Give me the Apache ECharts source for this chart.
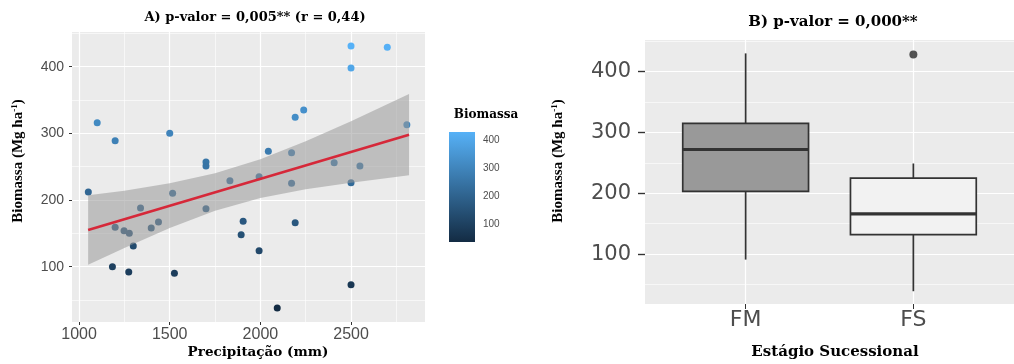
<!DOCTYPE html>
<html>
<head>
<meta charset="utf-8">
<script src="https://cdn.jsdelivr.net/npm/echarts@6/dist/echarts.min.js"></script>
<style>
html,body{margin:0;padding:0;background:#fff;}
#chart{width:1014px;height:364px;}
</style>
</head>
<body>
<div id="chart"></div>
<script>
// ---- Panel A data ----
const precip  = [1051,1100,1199,1500,1700,1700,1832,1516,1339,1700,1199,1248,1277,1398,1438,1299,1184,1274,1526,1905,1894,1993,2093,1993,2044,2172,2172,2192,2192,2239,2500,2500,2700,2808,2407,2549,2500,2500];
const biomass = [212,316,289,300,257,251,229,210,188,187,159,154,150,158,167,131,100,92,90,168,148,124,38,235,273,271,225,166,324,335,431,398,429,313,256,251,226,73];
// regression line end points and confidence band
const fitX = [1050, 2820];
const fitY = [155, 298];
const bandX    = [1050,1250,1500,1750,2000,2250,2500,2820];
const bandLow  = [103, 128, 158, 184, 203, 216, 226, 237];
const bandHigh = [207, 214, 225, 240, 261, 288, 318, 359];
const xTicksA = [1000,1500,2000,2500];
const yTicks  = [100,200,300,400];
const colorTicks = [100,200,300,400];

// ---- Panel B data ----
const categories = ['FM','FS'];
const boxLow  = [91, 39];
const boxQ1   = [203, 132];
const boxMed  = [272, 166];
const boxQ3   = [315, 225];
const boxHigh = [430, 249];
const outlierCat = ['FS'];
const outlierVal = [428];

const colorMin = Math.min.apply(null, biomass);
const colorMax = Math.max.apply(null, biomass);
const boxFills = ['#999999', '#F2F2F2'];

const chart = echarts.init(document.getElementById('chart'), null, {renderer:'canvas'});

const gridLine = {show:true, lineStyle:{color:'#ffffff', width:1.2}};
const minorLine = {show:true, lineStyle:{color:'#ffffff', width:0.6}};
const tickStyle = (len) => ({show:true, length:len, lineStyle:{color:'#333333', width:1}});
const plain = (v) => String(v);

const option = {
  animation:false,
  backgroundColor:'#ffffff',
  grid:[
    {left:72, top:32, width:353, height:290, show:true, backgroundColor:'#EBEBEB', borderWidth:0},
    {left:645, top:40, width:379, height:264, show:true, backgroundColor:'#EBEBEB', borderWidth:0},
    {left:449, top:132, width:26, height:110, show:false, borderWidth:0}
  ],
  xAxis:[
    {gridIndex:0, type:'value', min:961, max:2908, splitNumber:4, minInterval:500, maxInterval:500,
     axisLine:{show:false}, axisTick:Object.assign(tickStyle(3), {customValues:xTicksA}),
     axisLabel:{customValues:xTicksA, formatter:plain, color:'#4D4D4D', fontSize:16, fontFamily:'Liberation Sans', margin:5},
     splitLine:gridLine, minorTick:{show:false, splitNumber:2}, minorSplitLine:minorLine},
    {gridIndex:1, type:'value', min:0.4, max:2.6, minInterval:1, maxInterval:1,
     axisLine:{show:false}, axisTick:Object.assign(tickStyle(5), {customValues:[1,2]}),
     axisLabel:{customValues:[1,2], formatter:(v)=>categories[Math.round(v)-1] || '', color:'#4D4D4D', fontSize:22, fontFamily:'DejaVu Sans', margin:5},
     splitLine:gridLine},
    {gridIndex:2, type:'value', min:0, max:1, show:false}
  ],
  yAxis:[
    {gridIndex:0, type:'value', min:17, max:452, splitNumber:5, minInterval:100, maxInterval:100,
     axisLine:{show:false}, axisTick:Object.assign(tickStyle(3), {customValues:yTicks}),
     axisLabel:{customValues:yTicks, formatter:plain, color:'#4D4D4D', fontSize:14, fontFamily:'Liberation Sans', margin:8},
     splitLine:gridLine, minorTick:{show:false, splitNumber:2}, minorSplitLine:minorLine},
    {gridIndex:1, type:'value', min:18, max:452, splitNumber:5, minInterval:100, maxInterval:100,
     axisLine:{show:false}, axisTick:Object.assign(tickStyle(7), {customValues:yTicks, lineStyle:{color:'#333333', width:1.4}}),
     axisLabel:{customValues:yTicks, formatter:plain, color:'#4D4D4D', fontSize:21, fontFamily:'DejaVu Sans', margin:14},
     splitLine:gridLine, minorTick:{show:false, splitNumber:2}, minorSplitLine:minorLine},
    {gridIndex:2, type:'value', min:colorMin, max:colorMax, position:'right',
     axisLine:{show:false}, splitLine:{show:false},
     axisTick:{show:true, inside:true, length:5, customValues:colorTicks, lineStyle:{color:'rgba(255,255,255,0.8)', width:1}},
     axisLabel:{customValues:colorTicks, formatter:plain, color:'#4D4D4D', fontSize:10, fontFamily:'Liberation Sans', margin:8}},
    {gridIndex:2, type:'value', min:colorMin, max:colorMax, position:'left',
     axisLine:{show:false}, splitLine:{show:false},
     axisTick:{show:true, inside:true, length:5, customValues:colorTicks, lineStyle:{color:'rgba(255,255,255,0.8)', width:1}},
     axisLabel:{show:false}}
  ],
  visualMap:[{type:'continuous', show:false, seriesIndex:0, dimension:1, min:colorMin, max:colorMax,
              inRange:{color:['#132B43','#56B1F7']}}],
  series:[
    {type:'scatter', xAxisIndex:0, yAxisIndex:0, z:2, symbolSize:7,
     data: precip.map((x,i)=>[x, biomass[i]]), itemStyle:{opacity:1}},
    {type:'custom', xAxisIndex:0, yAxisIndex:0, z:3, silent:true,
     data: bandX.map((x,i)=>[x, bandLow[i], bandHigh[i]]),
     renderItem:function(params, api){
       if (params.dataIndex !== 0) return null;
       const pts = [];
       for (let i=0;i<bandX.length;i++) pts.push(api.coord([bandX[i], bandHigh[i]]));
       for (let i=bandX.length-1;i>=0;i--) pts.push(api.coord([bandX[i], bandLow[i]]));
       return {type:'polygon', shape:{points:pts}, style:{fill:'rgba(153,153,153,0.55)'}};
     }},
    {type:'line', xAxisIndex:0, yAxisIndex:0, z:4, symbol:'none', silent:true,
     data: fitX.map((x,i)=>[x, fitY[i]]), lineStyle:{color:'#D62839', width:2.6}},
    {type:'custom', xAxisIndex:1, yAxisIndex:1, z:3,
     data: categories.map((c,i)=>[i+1, boxLow[i], boxQ1[i], boxMed[i], boxQ3[i], boxHigh[i]]),
     renderItem:function(params, api){
       const x = api.value(0);
       const half = api.size([0.75, 0])[0] / 2;
       const pLow = api.coord([x, api.value(1)]);
       const pQ1 = api.coord([x, api.value(2)]);
       const pMed = api.coord([x, api.value(3)]);
       const pQ3 = api.coord([x, api.value(4)]);
       const pHigh = api.coord([x, api.value(5)]);
       const stroke = '#333333';
       return {type:'group', children:[
         {type:'line', shape:{x1:pHigh[0], y1:pHigh[1], x2:pQ3[0], y2:pQ3[1]}, style:{stroke:stroke, lineWidth:1.7}},
         {type:'line', shape:{x1:pQ1[0], y1:pQ1[1], x2:pLow[0], y2:pLow[1]}, style:{stroke:stroke, lineWidth:1.7}},
         {type:'rect', shape:{x:pQ3[0]-half, y:pQ3[1], width:half*2, height:pQ1[1]-pQ3[1]},
          style:{fill:boxFills[params.dataIndex], stroke:stroke, lineWidth:1.7}},
         {type:'line', shape:{x1:pMed[0]-half, y1:pMed[1], x2:pMed[0]+half, y2:pMed[1]}, style:{stroke:stroke, lineWidth:3.2}}
       ]};
     }},
    {type:'scatter', xAxisIndex:1, yAxisIndex:1, z:4, symbolSize:8,
     data: outlierCat.map((c,i)=>[categories.indexOf(c)+1, outlierVal[i]]), itemStyle:{color:'#2b2b2b'}},
    {type:'custom', xAxisIndex:2, yAxisIndex:2, z:2, silent:true,
     data:[[0, colorMin, colorMax]],
     renderItem:function(params, api){
       const pTop = api.coord([0, api.value(2)]);
       const pBot = api.coord([1, api.value(1)]);
       return {type:'rect', shape:{x:pTop[0], y:pTop[1], width:pBot[0]-pTop[0], height:pBot[1]-pTop[1]},
         style:{fill:{type:'linear', x:0, y:0, x2:0, y2:1, colorStops:[{offset:0,color:'#56B1F7'},{offset:1,color:'#132B43'}]}}};
     }}
  ],
  graphic:[
    {type:'text', x:255, y:18, style:{text:'A) p-valor = 0,005** (r = 0,44)', font:'bold 13px "DejaVu Serif"', fill:'#000', align:'center', verticalAlign:'middle', textAlign:'center', textVerticalAlign:'middle'}},
    {type:'text', x:833, y:22, style:{text:'B) p-valor = 0,000**', font:'bold 15px "DejaVu Serif"', fill:'#000', align:'center', verticalAlign:'middle', textAlign:'center', textVerticalAlign:'middle'}},
    {type:'text', x:258, y:352, style:{text:'Precipitação (mm)', font:'bold 13.5px "DejaVu Serif"', fill:'#000', align:'center', verticalAlign:'middle', textAlign:'center', textVerticalAlign:'middle'}},
    {type:'text', x:835, y:352, style:{text:'Estágio Sucessional', font:'bold 15px "DejaVu Serif"', fill:'#000', align:'center', verticalAlign:'middle', textAlign:'center', textVerticalAlign:'middle'}},
    {type:'text', x:486, y:115, style:{text:'Biomassa', font:'bold 12px "DejaVu Serif"', fill:'#000', align:'center', verticalAlign:'middle', textAlign:'center', textVerticalAlign:'middle'}},
    {type:'text', x:18, y:161, rotation:Math.PI/2, style:{text:'{a|Biomassa (Mg ha}{s|-1}{a|)}', align:'center', verticalAlign:'middle', textAlign:'center', textVerticalAlign:'middle',
      rich:{a:{fontFamily:'Liberation Serif', fontWeight:'bold', fontSize:15, fill:'#000', lineHeight:16}, s:{fontFamily:'Liberation Serif', fontWeight:'bold', fontSize:9, fill:'#000', lineHeight:16, verticalAlign:'top'}}}},
    {type:'text', x:558, y:161, rotation:Math.PI/2, style:{text:'{a|Biomassa (Mg ha}{s|-1}{a|)}', align:'center', verticalAlign:'middle', textAlign:'center', textVerticalAlign:'middle',
      rich:{a:{fontFamily:'Liberation Serif', fontWeight:'bold', fontSize:15, fill:'#000', lineHeight:16}, s:{fontFamily:'Liberation Serif', fontWeight:'bold', fontSize:9, fill:'#000', lineHeight:16, verticalAlign:'top'}}}}
  ]
};
chart.setOption(option);
</script>
</body>
</html>
